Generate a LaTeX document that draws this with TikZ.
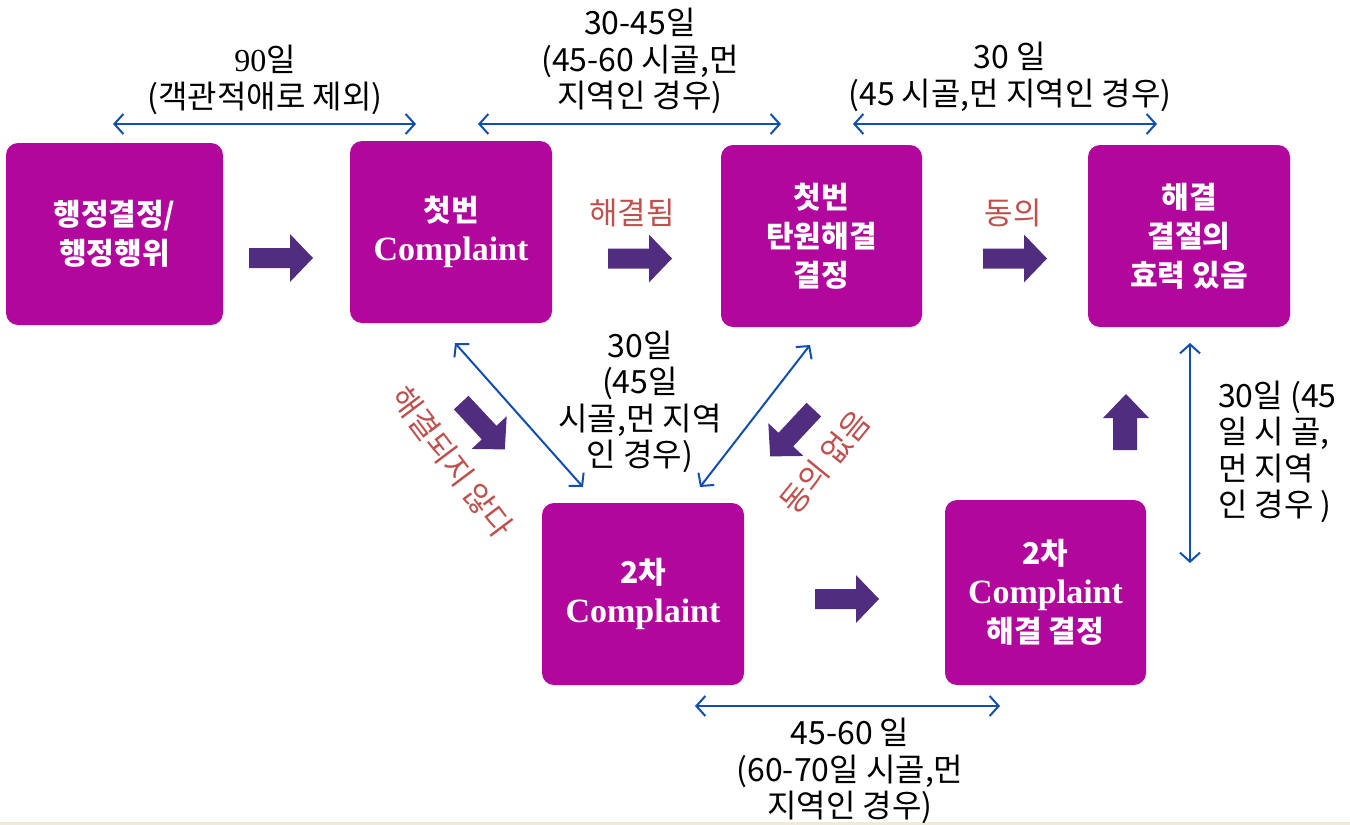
\documentclass[tikz,border=0pt]{standalone}
\usepackage{fontspec}
\setmainfont{Noto Sans CJK KR}
\newfontfamily\serifb{Liberation Serif}
\usetikzlibrary{arrows.meta}
\definecolor{mag}{RGB}{177,7,156}
\definecolor{arrowc}{RGB}{80,45,127}
\definecolor{bluec}{RGB}{16,78,176}
\definecolor{redc}{RGB}{192,80,77}
\definecolor{beige}{RGB}{238,235,216}
\begin{document}
\begin{tikzpicture}[x=1pt,y=-1pt,
  box/.style={fill=mag, rounded corners=12pt, text=white, align=center, inner sep=0pt,
    font=\fontsize{30}{39}\selectfont\bfseries},
  lbl/.style={align=center, inner sep=0pt, font=\fontsize{32}{36.5}\selectfont},
  rlbl/.style={lbl, text=redc, font=\fontsize{31}{36.5}\selectfont},
  span/.style={draw=bluec, line width=2pt, {Straight Barb[length=9pt,width=20pt]}-{Straight Barb[length=9pt,width=20pt]}},
  barrow/.pic={\fill[arrowc] (-32,-10) -- (9,-10) -- (9,-24) -- (32,0) -- (9,24) -- (9,10) -- (-32,10) -- cycle;}
]
\useasboundingbox (0,0) rectangle (1350,825);
\fill[beige] (0,822) rectangle (1350,825);

% boxes
\node[box, minimum width=217pt, minimum height=182pt] (b1) at (114.5,234) {행정결정/\\행정행위};
\node[box, minimum width=202pt, minimum height=182pt] (b2) at (451,232) {첫번\\{\serifb\fontsize{34}{39}\selectfont Complaint}};
\node[box, minimum width=201pt, minimum height=182pt] (b3) at (821.5,236) {첫번\\탄원해결\\결정};
\node[box, minimum width=202pt, minimum height=182pt] (b4) at (1189,236) {해결\\결절의\\효력 있음};
\node[box, minimum width=202pt, minimum height=182pt] (b5) at (643,594) {2차\\{\serifb\fontsize{34}{39}\selectfont Complaint}};
\node[box, minimum width=201pt, minimum height=185pt] (b6) at (1045.5,592.5) {2차\\{\serifb\fontsize{34}{39}\selectfont Complaint}\\해결 결정};

% block arrows
\pic at (281,258) {barrow};
\pic at (640,258.5) {barrow};
\pic at (1015,258.5) {barrow};
\pic at (847,599) {barrow};
\pic[rotate=-47] at (483,426) {barrow};
\pic[rotate=-133] at (792,433) {barrow};
\fill[arrowc] (1113,450) -- (1113,418) -- (1103,418) -- (1126,394) -- (1149,418) -- (1137,418) -- (1137,450) -- cycle;

% spans
\coordinate (t1a) at (113,124); \coordinate (t1b) at (416,124);
\coordinate (t2a) at (478,124); \coordinate (t2b) at (781,124);
\coordinate (t3a) at (853,124); \coordinate (t3b) at (1157,124);
\coordinate (d1a) at (455,343); \coordinate (d1b) at (583,487);
\coordinate (d2a) at (810,345); \coordinate (d2b) at (700,487);
\coordinate (va) at (1190,343); \coordinate (vb) at (1190,563);
\coordinate (ba) at (695,706); \coordinate (bb) at (1000,706);
\draw[span] (t1a) -- (t1b);
\draw[span] (t2a) -- (t2b);
\draw[span] (t3a) -- (t3b);
\draw[span] (d1a) -- (d1b);
\draw[span] (d2a) -- (d2b);
\draw[span] (va) -- (vb);
\draw[span] (ba) -- (bb);

% labels
\node[lbl] (l1) at (265,80) {{\serifb 90}일\\(객관적애로 제외)};
\node[lbl] (l2) at (640,61) {30-45일\\(45-60 시골,먼\\지역인 경우)};
\node[lbl] (l3) at (1010,77) {30 일\\(45 시골,먼 지역인 경우)};
\node[lbl] (l4) at (640,402) {30일\\(45일\\시골,먼 지역\\인 경우)};
\node[lbl, align=left, anchor=west] (l5) at (1218,452) {30일 (45\\일 시 골,\\먼 지역\\인 경우 )};
\node[lbl] (l6) at (850,771) {45-60 일\\(60-70일 시골,먼\\지역인 경우)};
\node[rlbl] (r1) at (632,213) {해결됨};
\node[rlbl] (r2) at (1013,213) {동의};
\node[rlbl, rotate=-53] (r3) at (452,462) {해결되지 않다};
\node[rlbl, rotate=51] (r4) at (825,462) {동의 없음};
\end{tikzpicture}
\end{document}
